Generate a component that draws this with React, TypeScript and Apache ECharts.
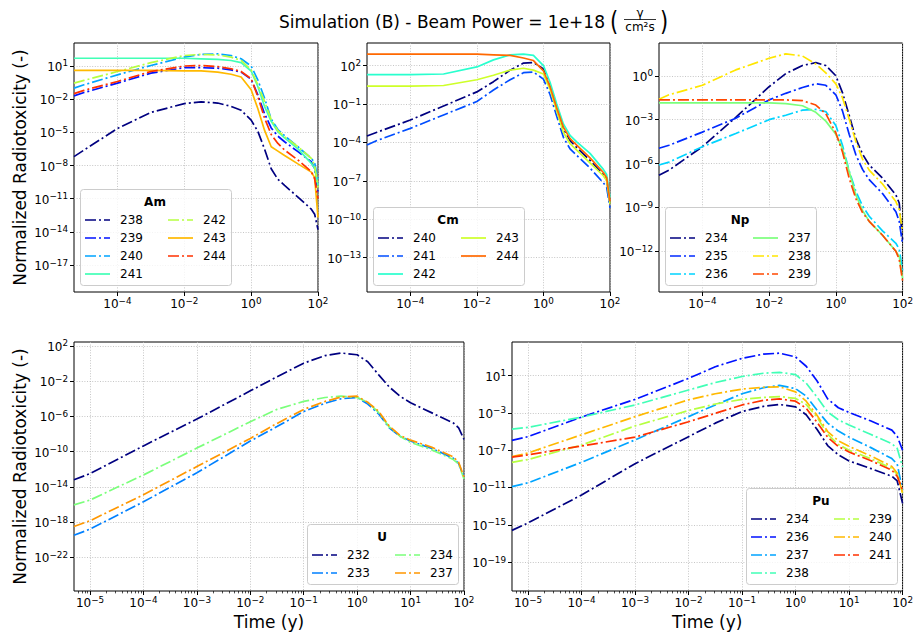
import React, { useEffect, useRef } from 'react';
import * as echarts from 'echarts';

const FONT = 'DejaVu Sans';

// Time axis (years)
const timeYears = [5e-6, 1e-5, 1e-4, 1e-3, 1e-2, 3.16e-2, 0.1, 0.251, 0.501, 1, 1.58, 2.51, 3.98, 6.31, 10, 25.1, 63.1, 79.4, 100];

// Am
const amIsotopes = ['238', '239', '240', '241', '242', '243', '244'];
const am238 = [6.31e-8, 2.51e-7, 2.24e-5, 6.31e-4, 3.98e-3, 5.62e-3, 4.47e-3, 2.24e-3, 1e-3, 1.26e-4, 1.26e-5, 3.16e-7, 5.01e-9, 5.62e-10, 1.58e-10, 1.41e-11, 1.12e-12, 3.98e-13, 1.58e-14];
const am239 = [2e-2, 3.98e-2, 0.282, 2.24, 7.08, 7.08, 6.31, 4.47, 2.82, 0.631, 2.51e-2, 5.01e-4, 2.51e-5, 4.47e-6, 1.41e-6, 1.78e-7, 2.24e-8, 5.01e-9, 3.16e-11];
const am240 = [0.1, 0.2, 1.58, 11.2, 63.1, 112, 126, 89.1, 44.7, 10, 0.562, 1.26e-2, 1.58e-4, 1.78e-5, 5.01e-6, 5.01e-7, 4.47e-8, 1.78e-8, 5.01e-10];
const am241 = [50.1, 50.1, 50.1, 50.1, 50.1, 44.7, 39.8, 31.6, 20, 3.55, 0.141, 2.24e-3, 1e-4, 1.12e-5, 3.16e-6, 3.16e-7, 1.58e-8, 5.62e-9, 1.58e-10];
const am242 = [0.282, 0.501, 3.16, 20, 89.1, 112, 100, 63.1, 31.6, 4.47, 0.2, 6.31e-3, 1.41e-4, 1.41e-5, 3.98e-6, 5.01e-7, 4.47e-8, 1e-8, 1e-10];
const am243 = [3.98, 3.98, 3.98, 3.98, 3.55, 3.55, 2.82, 1.78, 1, 7.08e-2, 1.41e-3, 1.58e-5, 5.01e-7, 2e-7, 7.94e-8, 1.41e-8, 2.51e-9, 7.94e-10, 2e-13];
const am244 = [3.16e-2, 6.31e-2, 0.398, 3.16, 10, 11.2, 8.91, 5.62, 3.16, 0.708, 1.78e-2, 2e-4, 6.31e-6, 1e-6, 2.51e-7, 3.16e-8, 2.82e-9, 6.31e-10, 1e-11];

// Cm
const cmIsotopes = ['240', '241', '242', '243', '244'];
const cm240 = [3.16e-4, 6.31e-4, 5.62e-3, 7.08e-2, 0.891, 5.62, 44.7, 158, 178, 56.2, 2.24, 3.55e-2, 1.12e-3, 1.41e-4, 3.98e-5, 3.98e-6, 3.16e-7, 1.26e-7, 1.58e-9];
const cm241 = [6.31e-5, 1.41e-4, 1.26e-3, 1.41e-2, 0.158, 1.26, 7.94, 28.2, 31.6, 8.91, 0.562, 1.12e-2, 2.51e-4, 3.16e-5, 1e-5, 1e-6, 7.08e-8, 3.16e-8, 7.94e-10];
const cm242 = [20, 20, 20, 22.4, 79.4, 282, 708, 794, 631, 100, 5.01, 0.1, 2.82e-3, 3.55e-4, 1.12e-4, 1.41e-5, 7.94e-7, 3.16e-7, 5.01e-9];
const cm243 = [2.51, 2.51, 2.51, 2.82, 7.94, 17.8, 44.7, 63.1, 44.7, 22.4, 1.41, 2.82e-2, 6.31e-4, 7.94e-5, 2.51e-5, 2.51e-6, 2.51e-7, 1e-7, 1.58e-9];
const cm244 = [794, 794, 794, 794, 794, 708, 631, 398, 251, 39.8, 2.24, 5.01e-2, 1.58e-3, 2e-4, 6.31e-5, 6.31e-6, 4.47e-7, 1.78e-7, 2.51e-9];

// Np
const npIsotopes = ['234', '235', '236', '237', '238', '239'];
const np234 = [1.58e-7, 3.55e-7, 1.41e-5, 1.41e-3, 0.178, 1.41, 5.01, 7.94, 5.01, 1, 7.08e-2, 2e-3, 5.01e-5, 4.47e-6, 7.94e-7, 1e-7, 7.08e-9, 2e-9, 6.31e-12];
const np235 = [1.12e-5, 1.78e-5, 1.41e-4, 1.26e-3, 2.24e-2, 6.31e-2, 0.158, 0.282, 0.224, 5.01e-2, 3.98e-3, 1e-4, 3.98e-6, 3.98e-7, 7.94e-8, 8.91e-9, 5.01e-10, 1.12e-10, 3.16e-12];
const np236 = [7.94e-7, 1.26e-6, 1.41e-5, 1.12e-4, 1e-3, 2e-3, 4.47e-3, 5.01e-3, 3.55e-3, 3.98e-4, 1.78e-5, 3.16e-7, 1.26e-8, 1.26e-9, 2.51e-10, 2.51e-11, 3.55e-12, 1.41e-12, 5.01e-14];
const np237 = [1.41e-2, 1.41e-2, 1.41e-2, 1.41e-2, 1.41e-2, 1.26e-2, 8.91e-3, 3.16e-3, 7.94e-4, 1e-4, 1e-5, 2.82e-7, 7.08e-9, 6.31e-10, 1.12e-10, 1.26e-11, 1e-12, 4.47e-13, 1.41e-14];
const np238 = [2.51e-2, 5.01e-2, 0.224, 2.51, 15.8, 31.6, 22.4, 6.31, 1.58, 0.282, 3.16e-2, 1.12e-3, 3.16e-5, 2e-6, 3.55e-7, 3.98e-8, 2.51e-9, 7.08e-10, 2e-11];
const np239 = [2.24e-2, 2.24e-2, 2.24e-2, 2.24e-2, 2.24e-2, 2.24e-2, 2e-2, 1e-2, 2.51e-3, 1.26e-4, 6.31e-6, 1e-7, 3.98e-9, 4.47e-10, 1.12e-10, 1.26e-11, 1e-12, 2.82e-13, 1e-14];

// U
const uIsotopes = ['232', '233', '234', '237'];
const u232 = [6.31e-14, 3.16e-13, 4.47e-10, 5.01e-7, 7.94e-4, 3.16e-2, 1.12, 7.94, 15.8, 10, 1.58, 5.62e-2, 2.24e-3, 2e-4, 3.55e-5, 2.51e-6, 1.78e-7, 5.01e-8, 2.51e-9];
const u233 = [3.16e-20, 1.58e-19, 2e-16, 3.98e-13, 1.58e-9, 7.08e-8, 3.55e-6, 3.16e-5, 1e-4, 1.41e-4, 2.51e-5, 2e-6, 5.01e-8, 5.62e-9, 1.58e-9, 2.24e-10, 1.78e-11, 4.47e-12, 1.26e-13];
const u234 = [8.91e-17, 3.16e-16, 2.24e-13, 2.51e-10, 2.51e-7, 6.31e-6, 5.01e-5, 1.41e-4, 2e-4, 1.41e-4, 3.98e-5, 2.82e-6, 6.31e-8, 5.62e-9, 1.12e-9, 1.58e-10, 1.26e-11, 3.98e-12, 7.94e-14];
const u237 = [3.16e-19, 1.41e-18, 1.26e-15, 2e-12, 3.16e-9, 1.58e-7, 6.31e-6, 5.01e-5, 1.58e-4, 2e-4, 3.98e-5, 3.98e-6, 7.94e-8, 7.08e-9, 2e-9, 3.16e-10, 2.51e-11, 6.31e-12, 1.26e-13];

// Pu
const puIsotopes = ['234', '236', '237', '238', '239', '240', '241'];
const pu234 = [2.51e-16, 1.58e-15, 1.58e-12, 3.55e-9, 2.82e-6, 7.94e-5, 1.41e-3, 5.01e-3, 7.94e-3, 4.47e-3, 6.31e-4, 1.78e-5, 3.16e-7, 3.16e-8, 7.08e-9, 1.12e-9, 1.58e-10, 5.01e-11, 2e-13];
const pu236 = [1.12e-6, 2.82e-6, 3.55e-4, 2.82e-2, 5.01, 89.1, 708, 2000, 2510, 1000, 100, 2.82, 3.16e-2, 3.55e-3, 1.12e-3, 1.41e-4, 1.41e-5, 3.16e-6, 1e-7];
const pu237 = [1.26e-11, 3.16e-11, 5.01e-9, 1.26e-6, 3.98e-4, 7.08e-3, 0.112, 0.501, 0.891, 0.398, 6.31e-2, 2e-3, 7.94e-5, 1.12e-5, 2.51e-6, 2e-7, 1.26e-8, 3.16e-9, 5.01e-12];
const pu238 = [1.78e-5, 2.82e-5, 3.55e-4, 7.08e-3, 0.282, 1.78, 7.94, 17.8, 22.4, 12.6, 1.58, 5.01e-2, 1.26e-3, 1.78e-4, 5.01e-5, 5.01e-6, 5.01e-7, 1.58e-7, 1.58e-9];
const pu239 = [5.01e-9, 1e-8, 3.55e-7, 3.98e-5, 1.78e-3, 8.91e-3, 2.82e-2, 4.47e-2, 5.62e-2, 3.55e-2, 7.94e-3, 3.55e-4, 5.01e-6, 3.98e-7, 1e-7, 1.26e-8, 1.12e-9, 2.51e-10, 2.51e-12];
const pu240 = [2e-8, 5.01e-8, 4.47e-6, 3.98e-4, 2.51e-2, 0.112, 0.355, 0.562, 0.631, 0.178, 1.78e-2, 5.62e-4, 1e-5, 1e-6, 2.51e-7, 2.51e-8, 1.78e-9, 3.55e-10, 2.51e-12];
const pu241 = [1.78e-8, 3.16e-8, 2.82e-7, 2.51e-6, 1.12e-4, 8.91e-4, 7.08e-3, 2.24e-2, 3.16e-2, 1.78e-2, 3.16e-3, 1e-4, 2.51e-6, 2.51e-7, 6.31e-8, 7.94e-9, 7.08e-10, 1.58e-10, 5.01e-12];

// Tick exponents (log10)
const xTicksTop = [-4, -2, 0, 2];
const xTicksBottom = [-5, -4, -3, -2, -1, 0, 1, 2];
const yTicksAm = [1, -2, -5, -8, -11, -14, -17];
const yTicksCm = [2, -1, -4, -7, -10, -13];
const yTicksNp = [0, -3, -6, -9, -12];
const yTicksU = [2, -2, -6, -10, -14, -18, -22];
const yTicksPu = [1, -3, -7, -11, -15, -19];

// Styles
const jet7 = ['#000080', '#0012ff', '#00a4ff', '#41ffb6', '#b6ff41', '#ffb900', '#ff3200'];
const jet5 = ['#000080', '#004dff', '#29ffce', '#ceff29', '#ff6800'];
const jet6 = ['#000080', '#002aff', '#00d4ff', '#7bff7b', '#ffe600', '#ff4800'];
const jet4 = ['#000080', '#0080ff', '#7bff7b', '#ff9700'];
const DD = [11, 3, 2, 3];
const LW = 1.7;

const X_MIN = -5.3;
const X_MAX = 2;

type Panel = {
  element: string;
  isotopes: string[];
  values: number[][];
  colors: string[];
  dashed: boolean[];
  left: number; top: number; width: number; height: number;
  yMin: number; yMax: number; yTicks: number[]; xTicks: number[];
  minor: boolean; yName: boolean; xName: boolean;
  legendX: number; legendBottom: number; legendRows: number;
};

const panels: Panel[] = [
  {
    element: 'Am', isotopes: amIsotopes, values: [am238, am239, am240, am241, am242, am243, am244],
    colors: jet7, dashed: [true, true, true, false, true, false, true],
    left: 74, top: 43, width: 244, height: 249,
    yMin: -19.44, yMax: 3.08, yTicks: yTicksAm, xTicks: xTicksTop,
    minor: false, yName: true, xName: false, legendX: 80, legendBottom: 285, legendRows: 4,
  },
  {
    element: 'Cm', isotopes: cmIsotopes, values: [cm240, cm241, cm242, cm243, cm244],
    colors: jet5, dashed: [true, true, false, false, false],
    left: 367, top: 43, width: 243, height: 249,
    yMin: -15.68, yMax: 3.77, yTicks: yTicksCm, xTicks: xTicksTop,
    minor: false, yName: false, xName: false, legendX: 373, legendBottom: 285, legendRows: 3,
  },
  {
    element: 'Np', isotopes: npIsotopes, values: [np234, np235, np236, np237, np238, np239],
    colors: jet6, dashed: [true, true, true, false, true, true],
    left: 659, top: 43, width: 244, height: 249,
    yMin: -14.78, yMax: 2.24, yTicks: yTicksNp, xTicks: xTicksTop,
    minor: false, yName: false, xName: false, legendX: 665, legendBottom: 285, legendRows: 3,
  },
  {
    element: 'U', isotopes: uIsotopes, values: [u232, u233, u234, u237],
    colors: jet4, dashed: [true, true, true, true],
    left: 74, top: 342, width: 390, height: 249,
    yMin: -25.83, yMax: 2.45, yTicks: yTicksU, xTicks: xTicksBottom,
    minor: true, yName: true, xName: true, legendX: 307, legendBottom: 584, legendRows: 2,
  },
  {
    element: 'Pu', isotopes: puIsotopes, values: [pu234, pu236, pu237, pu238, pu239, pu240, pu241],
    colors: jet7, dashed: [true, true, true, true, true, true, true],
    left: 512, top: 342, width: 391, height: 249,
    yMin: -22.1, yMax: 4.6, yTicks: yTicksPu, xTicks: xTicksBottom,
    minor: true, yName: false, xName: true, legendX: 746, legendBottom: 584, legendRows: 4,
  },
];

function expLabel(v: number): string {
  const e = Math.round(v);
  const s = e < 0 ? '\u2212' + String(-e) : String(e);
  return '{b|10}{s|' + s + '}';
}

const labelRich = {
  b: { fontSize: 12, lineHeight: 14, verticalAlign: 'bottom', color: '#000', fontFamily: FONT },
  s: { fontSize: 8.8, verticalAlign: 'top', color: '#000', fontFamily: FONT },
};

function minorTicks(): number[] {
  const out: number[] = [];
  for (let n = -6; n <= 1; n++) {
    for (let k = 2; k <= 9; k++) {
      const v = Math.log10(k) + n;
      if (v > X_MIN && v < X_MAX) out.push(v);
    }
  }
  return out;
}

function txt(text: string, x: number, y: number, size: number, align: string, weight = 'normal', color = '#000') {
  return {
    type: 'text', z: 20,
    style: {
      text, x, y, fill: color, fontSize: size, fontFamily: FONT, fontWeight: weight,
      textAlign: align, align, textVerticalAlign: 'middle', verticalAlign: 'middle',
    },
  };
}

function buildOption() {
  const grid: any[] = [];
  const xAxis: any[] = [];
  const yAxis: any[] = [];
  const series: any[] = [];
  const graphic: any[] = [];

  panels.forEach((p, pi) => {
    grid.push({
      left: p.left, top: p.top, width: p.width, height: p.height,
      show: true, borderColor: '#000', borderWidth: 1, backgroundColor: 'transparent',
    });
    xAxis.push({
      gridIndex: pi, type: 'value', min: X_MIN, max: X_MAX, position: 'bottom',
      axisLine: { show: false, onZero: false },
      axisTick: { show: true, customValues: p.xTicks, length: 4, lineStyle: { color: '#000', width: 1 } },
      axisLabel: { customValues: p.xTicks, formatter: expLabel, rich: labelRich, margin: 4 },
      splitLine: { show: true, lineStyle: { color: '#b8b8b8', width: 0.8, type: [1, 1.6] } },
      name: p.xName ? 'Time (y)' : '',
      nameLocation: 'middle', nameGap: 22,
      nameTextStyle: { fontSize: 17, color: '#000', fontFamily: FONT },
    });
    yAxis.push({
      gridIndex: pi, type: 'value', min: p.yMin, max: p.yMax, position: 'left',
      axisLine: { show: false, onZero: false },
      axisTick: { show: true, customValues: p.yTicks, length: 4, lineStyle: { color: '#000', width: 1 } },
      axisLabel: { customValues: p.yTicks, formatter: expLabel, rich: labelRich, margin: 6 },
      splitLine: { show: true, lineStyle: { color: '#b8b8b8', width: 0.8, type: [1, 1.6] } },
      name: p.yName ? 'Normalized Radiotoxicity (-)' : '',
      nameLocation: 'middle', nameGap: 46,
      nameTextStyle: { fontSize: 17, color: '#000', fontFamily: FONT },
    });

    p.values.forEach((vals, si) => {
      series.push({
        type: 'line',
        name: p.element + ' ' + p.isotopes[si],
        xAxisIndex: pi, yAxisIndex: pi,
        data: timeYears.map((t, i) => [Math.log10(t), Math.log10(vals[i])]),
        showSymbol: false, symbol: 'none',
        smooth: false,
        lineStyle: { color: p.colors[si], width: LW, type: p.dashed[si] ? DD : 'solid' },
        z: 3,
      });
    });

    // Legend box
    const rows = p.legendRows;
    const boxTop = p.legendBottom - (13 + 18 * rows + 11);
    const bx = p.legendX;
    graphic.push({
      type: 'rect', z: 19,
      shape: { x: bx + 0.5, y: boxTop + 0.5, width: 151, height: p.legendBottom - boxTop, r: 3 },
      style: { fill: 'rgba(255,255,255,0.8)', stroke: '#cccccc', lineWidth: 1 },
    });
    graphic.push(txt(p.element, bx + 75, boxTop + 13, 12, 'center', 'bold'));
    p.isotopes.forEach((iso, i) => {
      const col = Math.floor(i / rows);
      const row = i % rows;
      const y = boxTop + 31 + row * 18;
      const hx = bx + 5 + col * 83;
      graphic.push({
        type: 'line', z: 20,
        shape: { x1: hx, y1: y, x2: hx + 25, y2: y },
        style: { stroke: p.colors[i], lineWidth: LW, lineDash: p.dashed[i] ? DD : null },
      });
      graphic.push(txt(iso, hx + 35, y, 12, 'left'));
    });
  });

  // Minor ticks for the bottom panels: overlay grids that only carry tick marks
  const minors = minorTicks();
  panels.forEach((p) => {
    if (!p.minor) return;
    const gi = grid.length;
    grid.push({ left: p.left, top: p.top, width: p.width, height: p.height, show: false });
    xAxis.push({
      gridIndex: gi, type: 'value', min: X_MIN, max: X_MAX, position: 'bottom',
      axisLine: { show: false, onZero: false },
      axisTick: { show: true, customValues: minors, length: 2.4, lineStyle: { color: '#000', width: 0.7 } },
      axisLabel: { show: false },
      splitLine: { show: false },
    });
    yAxis.push({
      gridIndex: gi, type: 'value', min: 0, max: 1, show: false,
      axisLine: { show: false, onZero: false },
      splitLine: { show: false },
    });
  });

  // Title
  graphic.push(txt('Simulation (B) - Beam Power = 1e+18', 605, 21.5, 17, 'right'));
  graphic.push({
    type: 'text', z: 20, x: 614, y: 20, scaleY: 1.3,
    style: { text: '(', x: 0, y: 0, fill: '#000', fontSize: 21, fontFamily: FONT, textAlign: 'center', align: 'center', textVerticalAlign: 'middle', verticalAlign: 'middle' },
  });
  graphic.push(txt('\u03b3', 640, 12.5, 12, 'center'));
  graphic.push({
    type: 'line', z: 20,
    shape: { x1: 624, y1: 19.5, x2: 656, y2: 19.5 },
    style: { stroke: '#000', lineWidth: 0.8 },
  });
  graphic.push(txt('cm\u00b2s', 640, 26.5, 12, 'center'));
  graphic.push({
    type: 'text', z: 20, x: 664, y: 20, scaleY: 1.3,
    style: { text: ')', x: 0, y: 0, fill: '#000', fontSize: 21, fontFamily: FONT, textAlign: 'center', align: 'center', textVerticalAlign: 'middle', verticalAlign: 'middle' },
  });

  return {
    animation: false,
    backgroundColor: '#ffffff',
    textStyle: { fontFamily: FONT },
    grid, xAxis, yAxis, series, graphic,
  };
}

export default function App() {
  const ref = useRef<HTMLDivElement>(null);
  useEffect(() => {
    if (!ref.current) return;
    const chart = echarts.init(ref.current, undefined, { renderer: 'svg' });
    chart.setOption(buildOption() as any);
    return () => chart.dispose();
  }, []);
  return (
    <div
      ref={ref}
      style={{ position: 'fixed', left: 0, top: 0, width: 916, height: 632, background: '#fff' }}
    />
  );
}
